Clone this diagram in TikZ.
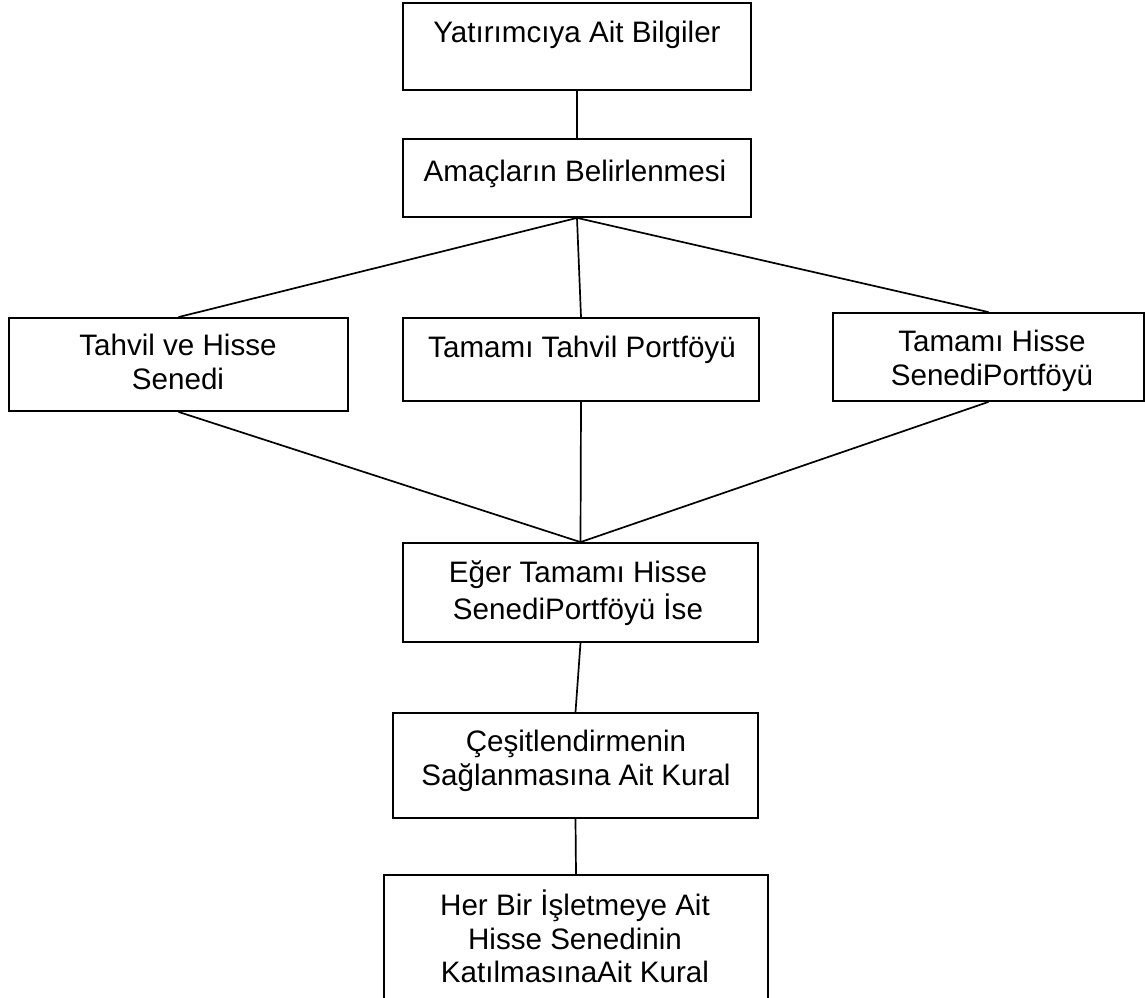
\documentclass[tikz,border=0pt]{standalone}
\usepackage{fontspec}
\setmainfont{Liberation Sans}
\begin{document}
\begin{tikzpicture}[x=1bp,y=-1bp,
  box/.style={draw=black, line width=1.8bp, inner sep=0pt, fill=none},
  txt/.style={align=center, inner sep=0pt, font=\fontsize{29.7pt}{33.6pt}\selectfont},
  conn/.style={draw=black, line width=1.7bp}]
\useasboundingbox (0,0) rectangle (1145,998);
% boxes
\node[box, minimum width=348bp, minimum height=87bp] (b1) at (577,46.5) {};
\node[box, minimum width=348bp, minimum height=78bp] (b2) at (577,178) {};
\node[box, minimum width=339bp, minimum height=93bp] (b3) at (178.5,364.5) {};
\node[box, minimum width=356bp, minimum height=83bp] (b4) at (581,359.5) {};
\node[box, minimum width=311bp, minimum height=88bp] (b5) at (988.5,357) {};
\node[box, minimum width=355bp, minimum height=99bp] (b6) at (580.5,592.5) {};
\node[box, minimum width=365bp, minimum height=105bp] (b7) at (575.5,765.5) {};
\node[box, minimum width=384bp, minimum height=135bp] (b8) at (576,942.5) {};
% texts
\node[txt] (t1) at (577,35.5) {\strut Yatırımcıya Ait Bilgiler};
\node[txt] (t2) at (575,174.5) {\strut Amaçların Belirlenmesi};
\node[txt] (t3) at (178,366) {\strut Tahvil ve Hisse\\\strut Senedi};
\node[txt] (t4) at (582,350.5) {\strut Tamamı Tahvil Portföyü};
\node[txt] (t5) at (992,362) {\strut Tamamı Hisse\\\strut SenediPortföyü};
\node[txt] (t6) at (578,594) {\strut Eğer Tamamı Hisse\\\strut SenediPortföyü İse};
\node[txt] (t7) at (576,762) {\strut Çeşitlendirmenin\\\strut Sağlanmasına Ait Kural};
\node[txt] (t8) at (575,941.4) {\strut Her Bir İşletmeye Ait\\\strut Hisse Senedinin\\\strut KatılmasınaAit Kural};
% connectors
\draw[conn] (b1.south) -- (b2.north);
\draw[conn] (b2.south) -- (b3.north);
\draw[conn] (b2.south) -- (b4.north);
\draw[conn] (b2.south) -- (b5.north);
\draw[conn] (b3.south) -- (b6.north);
\draw[conn] (b4.south) -- (b6.north);
\draw[conn] (b5.south) -- (b6.north);
\draw[conn] (b6.south) -- (b7.north);
\draw[conn] (b7.south) -- (b8.north);
\end{tikzpicture}
\end{document}
